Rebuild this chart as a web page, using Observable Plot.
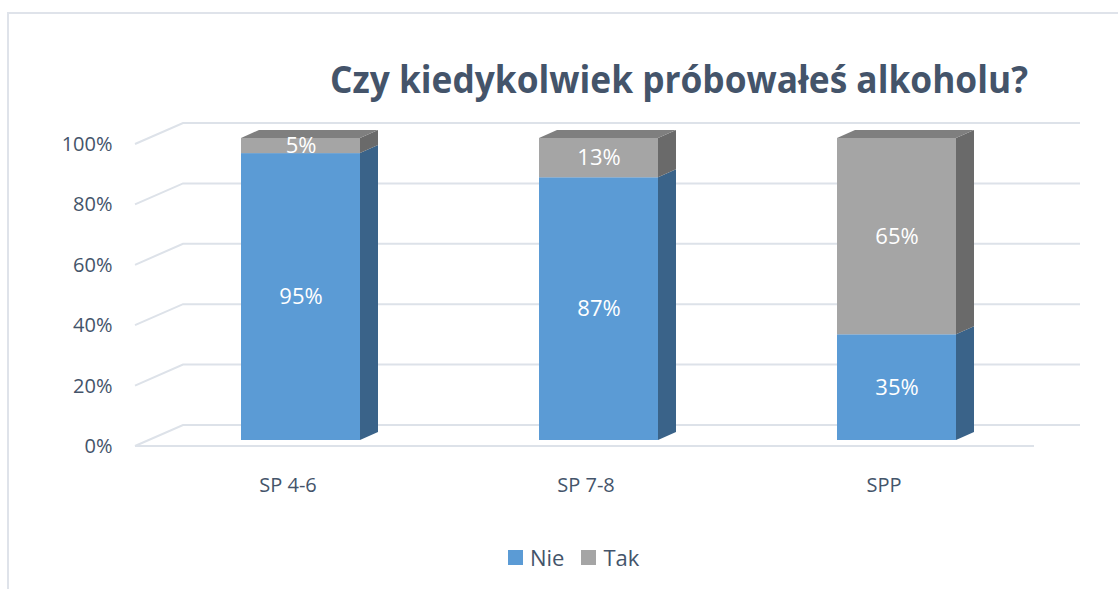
<!DOCTYPE html>
<html><head><meta charset="utf-8">
<script src="https://cdn.jsdelivr.net/npm/d3@7"></script>
<script src="https://cdn.jsdelivr.net/npm/@observablehq/plot@0.6"></script>
<style>
body{margin:0;background:#fff;font-family:"Open Sans",sans-serif;}
#wrap{position:relative;width:1118px;height:589px;overflow:hidden;background:#fff;}
#frame{position:absolute;left:7px;top:12px;width:1200px;height:700px;border-left:2px solid #dfe3ea;border-top:2px solid #dfe3ea;}
#chart{position:absolute;left:0;top:0;}
#title{position:absolute;left:330px;top:59px;font-weight:700;font-size:38px;line-height:1;color:#44546a;white-space:nowrap;transform-origin:0 0;}
#legend{position:absolute;left:508px;top:546px;display:flex;align-items:center;font-size:22px;line-height:1;color:#44546a;}
#legend .sw{width:15px;height:15px;margin-right:7px;}
#legend .it{display:flex;align-items:center;margin-right:17px;}
</style></head>
<body>
<div id="wrap">
  <div id="frame"></div>
  <div id="chart"></div>
  <div id="title">Czy kiedykolwiek próbowałeś alkoholu?</div>
  <div id="legend"></div>
</div>
<script>
// ---- data ----
const categories = ["SP 4-6", "SP 7-8", "SPP"];
const nieValues = [0.95, 0.87, 0.35];
const takValues = [0.05, 0.13, 0.65];
const seriesNames = ["Nie", "Tak"];
const yTicks = [0, 0.2, 0.4, 0.6, 0.8, 1];

// ---- styles ----
const frontColors = {Nie: "#5b9bd5", Tak: "#a5a5a5"};
const sideColors = {Nie: "#3a6389", Tak: "#6a6a6a"};
const topColor = "#7f7f7f";
const gridColor = "#dde2e9";
const textColor = "#44546a";
const depthX = 18, depthY = -8;      // bar 3D depth
const floorFront = 6, wallBack = -15; // gridline offsets
const gridFrontX = 135, gridBackX = 183, gridBackEnd = 1080, floorFrontEnd = 1034;

// stacked rows
const rows = [];
categories.forEach((c, i) => {
  const vals = [nieValues[i], takValues[i]];
  let acc = 0;
  seriesNames.forEach((s, j) => {
    rows.push({cat: c, series: s, value: vals[j], y1: acc, y2: acc + vals[j]});
    acc += vals[j];
  });
});

const svgNS = "http://www.w3.org/2000/svg";
function el(name, attrs) {
  const e = document.createElementNS(svgNS, name);
  for (const k in attrs) e.setAttribute(k, attrs[k]);
  return e;
}

// gridlines (3D wall + floor)
function gridMark(index, scales) {
  const g = el("g", {});
  const y = scales.y;
  yTicks.forEach(v => {
    const yf = y(v) + floorFront, yb = y(v) + wallBack;
    g.appendChild(el("path", {d: `M${gridFrontX},${yf}L${gridBackX},${yb}L${gridBackEnd},${yb}`, fill: "none", stroke: gridColor, "stroke-width": 2}));
  });
  const y0 = y(0) + floorFront;
  g.appendChild(el("path", {d: `M${gridFrontX},${y0}L${floorFrontEnd},${y0}`, fill: "none", stroke: gridColor, "stroke-width": 2}));
  return g;
}

// side and top faces of bars
function depthMark(index, scales) {
  const g = el("g", {});
  const x = scales.x, y = scales.y;
  const bw = typeof x.bandwidth === "function" ? x.bandwidth() : scales.scales.x.bandwidth;
  rows.forEach(r => {
    const xr = x(r.cat) + bw;
    const ya = y(r.y1), yb = y(r.y2);
    g.appendChild(el("path", {d: `M${xr},${ya}L${xr},${yb}L${xr + depthX},${yb + depthY}L${xr + depthX},${ya + depthY}Z`, fill: sideColors[r.series]}));
  });
  categories.forEach((c, i) => {
    const xl = x(c), xr = xl + bw, yt = y(nieValues[i] + takValues[i]);
    g.appendChild(el("path", {d: `M${xl},${yt}L${xr},${yt}L${xr + depthX},${yt + depthY}L${xl + depthX},${yt + depthY}Z`, fill: topColor}));
  });
  return g;
}

const chart = Plot.plot({
  width: 1118,
  height: 589,
  marginLeft: 120,
  marginRight: 0,
  marginTop: 0,
  marginBottom: 119,
  style: {fontFamily: "'Open Sans', sans-serif", fontSize: "20px", background: "transparent", overflow: "visible"},
  x: {type: "band", domain: categories, range: [150.4, 1046], paddingInner: 0.6016, paddingOuter: 0.3},
  y: {domain: [0, 1], range: [440, 138]},
  color: {domain: seriesNames, range: seriesNames.map(s => frontColors[s])},
  marks: [
    gridMark,
    Plot.barY(rows, {x: "cat", y1: "y1", y2: "y2", fill: "series", insetLeft: 0, insetRight: 0}),
    depthMark,
    Plot.text(rows, {x: "cat", y: d => (d.y1 + d.y2) / 2, text: d => Math.round(d.value * 100) + "%", fill: "white", fontSize: 22}),
    Plot.axisY({ticks: yTicks, tickFormat: d3.format(".0%"), tickSize: 0, tickPadding: 8, dy: 6, label: null, fill: textColor, fontSize: 20}),
    Plot.axisX({tickSize: 0, tickPadding: 7, dx: -13, label: null, fill: textColor, fontSize: 20})
  ]
});
document.getElementById("chart").appendChild(chart);

// legend
const legend = document.getElementById("legend");
seriesNames.forEach(s => {
  const it = document.createElement("div");
  it.className = "it";
  const sw = document.createElement("div");
  sw.className = "sw";
  sw.style.background = frontColors[s];
  const t = document.createElement("span");
  t.textContent = s;
  it.appendChild(sw); it.appendChild(t);
  legend.appendChild(it);
});

// fit title width
const title = document.getElementById("title");
const w = title.getBoundingClientRect().width;
title.style.transform = `scaleX(${698 / w})`;
</script>
</body></html>
